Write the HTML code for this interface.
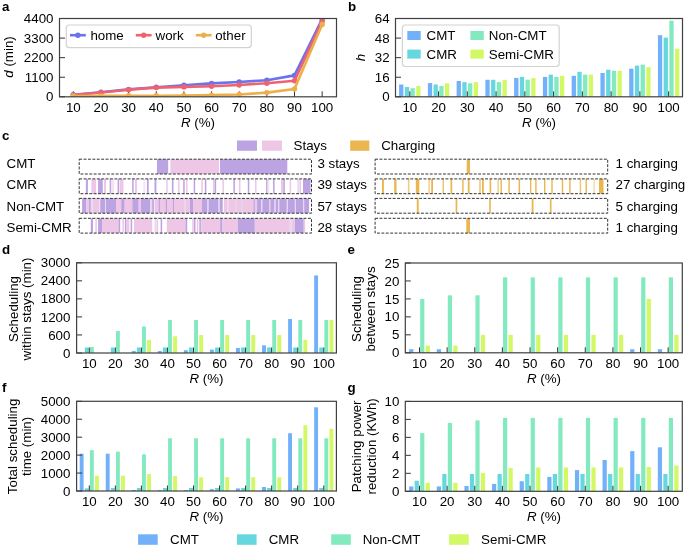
<!DOCTYPE html>
<html><head><meta charset="utf-8"><style>
html,body{margin:0;padding:0;background:#fff;width:685px;height:546px;overflow:hidden;position:relative}
svg{will-change:transform}
</style></head><body>
<svg width="685" height="546" viewBox="0 0 685 546" style="position:absolute;left:0;top:0">
<g font-family='"Liberation Sans", sans-serif' fill="#000000">
<text x="2" y="10.5" font-size="13.33" text-anchor="start" font-weight="bold" font-style="normal" >a</text>
<text x="53.5" y="101.39999999999999" font-size="13.33" text-anchor="end" font-weight="normal" font-style="normal" >0</text>
<text x="53.5" y="81.82499999999999" font-size="13.33" text-anchor="end" font-weight="normal" font-style="normal" >1100</text>
<text x="53.5" y="62.25" font-size="13.33" text-anchor="end" font-weight="normal" font-style="normal" >2200</text>
<text x="53.5" y="42.675000000000004" font-size="13.33" text-anchor="end" font-weight="normal" font-style="normal" >3300</text>
<text x="53.5" y="23.1" font-size="13.33" text-anchor="end" font-weight="normal" font-style="normal" >4400</text>
<text x="73.3" y="111.9" font-size="13.33" text-anchor="middle" font-weight="normal" font-style="normal" >10</text>
<text x="100.94999999999999" y="111.9" font-size="13.33" text-anchor="middle" font-weight="normal" font-style="normal" >20</text>
<text x="128.6" y="111.9" font-size="13.33" text-anchor="middle" font-weight="normal" font-style="normal" >30</text>
<text x="156.25" y="111.9" font-size="13.33" text-anchor="middle" font-weight="normal" font-style="normal" >40</text>
<text x="183.89999999999998" y="111.9" font-size="13.33" text-anchor="middle" font-weight="normal" font-style="normal" >50</text>
<text x="211.55" y="111.9" font-size="13.33" text-anchor="middle" font-weight="normal" font-style="normal" >60</text>
<text x="239.2" y="111.9" font-size="13.33" text-anchor="middle" font-weight="normal" font-style="normal" >70</text>
<text x="266.84999999999997" y="111.9" font-size="13.33" text-anchor="middle" font-weight="normal" font-style="normal" >80</text>
<text x="294.5" y="111.9" font-size="13.33" text-anchor="middle" font-weight="normal" font-style="normal" >90</text>
<text x="322.15" y="111.9" font-size="13.33" text-anchor="middle" font-weight="normal" font-style="normal" >100</text>
<text x="198" y="126.8" font-size="13.33" text-anchor="middle"><tspan font-style="italic">R</tspan> (%)</text>
<text transform="translate(12.6,57) rotate(-90)" font-size="13.33" text-anchor="middle"><tspan font-style="italic">d</tspan> (min)</text>
<line x1="73.30" y1="96.8" x2="73.30" y2="91.3" stroke="#333333" stroke-width="1"/>
<line x1="100.95" y1="96.8" x2="100.95" y2="91.3" stroke="#333333" stroke-width="1"/>
<line x1="128.60" y1="96.8" x2="128.60" y2="91.3" stroke="#333333" stroke-width="1"/>
<line x1="156.25" y1="96.8" x2="156.25" y2="91.3" stroke="#333333" stroke-width="1"/>
<line x1="183.90" y1="96.8" x2="183.90" y2="91.3" stroke="#333333" stroke-width="1"/>
<line x1="211.55" y1="96.8" x2="211.55" y2="91.3" stroke="#333333" stroke-width="1"/>
<line x1="239.20" y1="96.8" x2="239.20" y2="91.3" stroke="#333333" stroke-width="1"/>
<line x1="266.85" y1="96.8" x2="266.85" y2="91.3" stroke="#333333" stroke-width="1"/>
<line x1="294.50" y1="96.8" x2="294.50" y2="91.3" stroke="#333333" stroke-width="1"/>
<line x1="322.15" y1="96.8" x2="322.15" y2="91.3" stroke="#333333" stroke-width="1"/>
<line x1="59.5" y1="96.80" x2="65.0" y2="96.80" stroke="#333333" stroke-width="1"/>
<line x1="59.5" y1="77.22" x2="65.0" y2="77.22" stroke="#333333" stroke-width="1"/>
<line x1="59.5" y1="57.65" x2="65.0" y2="57.65" stroke="#333333" stroke-width="1"/>
<line x1="59.5" y1="38.08" x2="65.0" y2="38.08" stroke="#333333" stroke-width="1"/>
<line x1="59.5" y1="18.50" x2="65.0" y2="18.50" stroke="#333333" stroke-width="1"/>
<defs><clipPath id="clipA"><rect x="59.5" y="18.5" width="277" height="78.3"/></clipPath></defs>
<g clip-path="url(#clipA)">
<polyline points="73.30,94.80 100.95,92.20 128.60,89.40 156.25,87.20 183.90,85.20 211.55,83.40 239.20,82.00 266.85,80.20 294.50,75.40 322.15,19.00" fill="none" stroke="#6A72EC" stroke-width="2.6" stroke-linejoin="round"/>
<circle cx="73.30" cy="94.80" r="2.7" fill="#6A72EC"/>
<circle cx="100.95" cy="92.20" r="2.7" fill="#6A72EC"/>
<circle cx="128.60" cy="89.40" r="2.7" fill="#6A72EC"/>
<circle cx="156.25" cy="87.20" r="2.7" fill="#6A72EC"/>
<circle cx="183.90" cy="85.20" r="2.7" fill="#6A72EC"/>
<circle cx="211.55" cy="83.40" r="2.7" fill="#6A72EC"/>
<circle cx="239.20" cy="82.00" r="2.7" fill="#6A72EC"/>
<circle cx="266.85" cy="80.20" r="2.7" fill="#6A72EC"/>
<circle cx="294.50" cy="75.40" r="2.7" fill="#6A72EC"/>
<circle cx="322.15" cy="19.00" r="2.7" fill="#6A72EC"/>
<polyline points="73.30,95.00 100.95,92.50 128.60,89.70 156.25,87.60 183.90,86.90 211.55,86.20 239.20,85.00 266.85,83.20 294.50,80.70 322.15,21.40" fill="none" stroke="#EF6370" stroke-width="2.6" stroke-linejoin="round"/>
<circle cx="73.30" cy="95.00" r="2.7" fill="#EF6370"/>
<circle cx="100.95" cy="92.50" r="2.7" fill="#EF6370"/>
<circle cx="128.60" cy="89.70" r="2.7" fill="#EF6370"/>
<circle cx="156.25" cy="87.60" r="2.7" fill="#EF6370"/>
<circle cx="183.90" cy="86.90" r="2.7" fill="#EF6370"/>
<circle cx="211.55" cy="86.20" r="2.7" fill="#EF6370"/>
<circle cx="239.20" cy="85.00" r="2.7" fill="#EF6370"/>
<circle cx="266.85" cy="83.20" r="2.7" fill="#EF6370"/>
<circle cx="294.50" cy="80.70" r="2.7" fill="#EF6370"/>
<circle cx="322.15" cy="21.40" r="2.7" fill="#EF6370"/>
<polyline points="73.30,96.00 100.95,95.90 128.60,95.80 156.25,95.70 183.90,95.50 211.55,95.10 239.20,94.50 266.85,92.60 294.50,89.00 322.15,24.50" fill="none" stroke="#ECAF4C" stroke-width="2.6" stroke-linejoin="round"/>
<circle cx="73.30" cy="96.00" r="2.7" fill="#ECAF4C"/>
<circle cx="100.95" cy="95.90" r="2.7" fill="#ECAF4C"/>
<circle cx="128.60" cy="95.80" r="2.7" fill="#ECAF4C"/>
<circle cx="156.25" cy="95.70" r="2.7" fill="#ECAF4C"/>
<circle cx="183.90" cy="95.50" r="2.7" fill="#ECAF4C"/>
<circle cx="211.55" cy="95.10" r="2.7" fill="#ECAF4C"/>
<circle cx="239.20" cy="94.50" r="2.7" fill="#ECAF4C"/>
<circle cx="266.85" cy="92.60" r="2.7" fill="#ECAF4C"/>
<circle cx="294.50" cy="89.00" r="2.7" fill="#ECAF4C"/>
<circle cx="322.15" cy="24.50" r="2.7" fill="#ECAF4C"/>
</g>
<rect x="59.5" y="18.5" width="277.0" height="78.3" fill="none" stroke="#404040" stroke-width="1.2"/>
<rect x="66.3" y="25" width="185" height="22.6" rx="3" fill="#fff" fill-opacity="0.8" stroke="#d2d2d2" stroke-width="1.2"/>
<line x1="70" y1="35.2" x2="85.8" y2="35.2" stroke="#6A72EC" stroke-width="2.6"/>
<circle cx="77.9" cy="35.2" r="2.7" fill="#6A72EC"/>
<text x="90.4" y="39.6" font-size="13.33" text-anchor="start" font-weight="normal" font-style="normal" >home</text>
<line x1="135.8" y1="35.2" x2="151.60000000000002" y2="35.2" stroke="#EF6370" stroke-width="2.6"/>
<circle cx="143.70000000000002" cy="35.2" r="2.7" fill="#EF6370"/>
<text x="155.5" y="39.6" font-size="13.33" text-anchor="start" font-weight="normal" font-style="normal" >work</text>
<line x1="195.8" y1="35.2" x2="211.60000000000002" y2="35.2" stroke="#ECAF4C" stroke-width="2.6"/>
<circle cx="203.70000000000002" cy="35.2" r="2.7" fill="#ECAF4C"/>
<text x="215.2" y="39.6" font-size="13.33" text-anchor="start" font-weight="normal" font-style="normal" >other</text>
<text x="348" y="10.5" font-size="13.33" text-anchor="start" font-weight="bold" font-style="normal" >b</text>
<text x="389.6" y="101.39999999999999" font-size="13.33" text-anchor="end" font-weight="normal" font-style="normal" >0</text>
<text x="389.6" y="81.82499999999999" font-size="13.33" text-anchor="end" font-weight="normal" font-style="normal" >16</text>
<text x="389.6" y="62.25" font-size="13.33" text-anchor="end" font-weight="normal" font-style="normal" >32</text>
<text x="389.6" y="42.675000000000004" font-size="13.33" text-anchor="end" font-weight="normal" font-style="normal" >48</text>
<text x="389.6" y="23.1" font-size="13.33" text-anchor="end" font-weight="normal" font-style="normal" >64</text>
<text x="409.8" y="111.9" font-size="13.33" text-anchor="middle" font-weight="normal" font-style="normal" >10</text>
<text x="438.56" y="111.9" font-size="13.33" text-anchor="middle" font-weight="normal" font-style="normal" >20</text>
<text x="467.32" y="111.9" font-size="13.33" text-anchor="middle" font-weight="normal" font-style="normal" >30</text>
<text x="496.08000000000004" y="111.9" font-size="13.33" text-anchor="middle" font-weight="normal" font-style="normal" >40</text>
<text x="524.84" y="111.9" font-size="13.33" text-anchor="middle" font-weight="normal" font-style="normal" >50</text>
<text x="553.6" y="111.9" font-size="13.33" text-anchor="middle" font-weight="normal" font-style="normal" >60</text>
<text x="582.36" y="111.9" font-size="13.33" text-anchor="middle" font-weight="normal" font-style="normal" >70</text>
<text x="611.12" y="111.9" font-size="13.33" text-anchor="middle" font-weight="normal" font-style="normal" >80</text>
<text x="639.88" y="111.9" font-size="13.33" text-anchor="middle" font-weight="normal" font-style="normal" >90</text>
<text x="668.6400000000001" y="111.9" font-size="13.33" text-anchor="middle" font-weight="normal" font-style="normal" >100</text>
<text x="539" y="126.8" font-size="13.33" text-anchor="middle"><tspan font-style="italic">R</tspan> (%)</text>
<text transform="translate(365,57.6) rotate(-90)" font-size="13.33" text-anchor="middle" font-style="italic">h</text>
<rect x="399.10" y="84.50" width="4.30" height="12.30" fill="#72B1FA" />
<rect x="427.86" y="83.10" width="4.30" height="13.70" fill="#72B1FA" />
<rect x="456.62" y="81.00" width="4.30" height="15.80" fill="#72B1FA" />
<rect x="485.38" y="79.80" width="4.30" height="17.00" fill="#72B1FA" />
<rect x="514.14" y="77.90" width="4.30" height="18.90" fill="#72B1FA" />
<rect x="542.90" y="76.90" width="4.30" height="19.90" fill="#72B1FA" />
<rect x="571.66" y="75.80" width="4.30" height="21.00" fill="#72B1FA" />
<rect x="600.42" y="73.00" width="4.30" height="23.80" fill="#72B1FA" />
<rect x="629.18" y="68.70" width="4.30" height="28.10" fill="#72B1FA" />
<rect x="657.94" y="35.20" width="4.30" height="61.60" fill="#72B1FA" />
<rect x="404.80" y="87.00" width="4.30" height="9.80" fill="#66D7DF" />
<rect x="433.56" y="84.50" width="4.30" height="12.30" fill="#66D7DF" />
<rect x="462.32" y="82.10" width="4.30" height="14.70" fill="#66D7DF" />
<rect x="491.08" y="79.80" width="4.30" height="17.00" fill="#66D7DF" />
<rect x="519.84" y="76.90" width="4.30" height="19.90" fill="#66D7DF" />
<rect x="548.60" y="74.60" width="4.30" height="22.20" fill="#66D7DF" />
<rect x="577.36" y="71.80" width="4.30" height="25.00" fill="#66D7DF" />
<rect x="606.12" y="69.70" width="4.30" height="27.10" fill="#66D7DF" />
<rect x="634.88" y="65.60" width="4.30" height="31.20" fill="#66D7DF" />
<rect x="663.64" y="37.60" width="4.30" height="59.20" fill="#66D7DF" />
<rect x="410.50" y="88.20" width="4.30" height="8.60" fill="#83EABF" />
<rect x="439.26" y="86.00" width="4.30" height="10.80" fill="#83EABF" />
<rect x="468.02" y="83.30" width="4.30" height="13.50" fill="#83EABF" />
<rect x="496.78" y="82.10" width="4.30" height="14.70" fill="#83EABF" />
<rect x="525.54" y="79.70" width="4.30" height="17.10" fill="#83EABF" />
<rect x="554.30" y="76.90" width="4.30" height="19.90" fill="#83EABF" />
<rect x="583.06" y="74.60" width="4.30" height="22.20" fill="#83EABF" />
<rect x="611.82" y="70.70" width="4.30" height="26.10" fill="#83EABF" />
<rect x="640.58" y="64.60" width="4.30" height="32.20" fill="#83EABF" />
<rect x="669.34" y="20.70" width="4.30" height="76.10" fill="#83EABF" />
<rect x="416.20" y="86.00" width="4.30" height="10.80" fill="#D3F865" />
<rect x="444.96" y="83.30" width="4.30" height="13.50" fill="#D3F865" />
<rect x="473.72" y="82.10" width="4.30" height="14.70" fill="#D3F865" />
<rect x="502.48" y="79.80" width="4.30" height="17.00" fill="#D3F865" />
<rect x="531.24" y="78.10" width="4.30" height="18.70" fill="#D3F865" />
<rect x="560.00" y="75.80" width="4.30" height="21.00" fill="#D3F865" />
<rect x="588.76" y="74.60" width="4.30" height="22.20" fill="#D3F865" />
<rect x="617.52" y="70.70" width="4.30" height="26.10" fill="#D3F865" />
<rect x="646.28" y="67.20" width="4.30" height="29.60" fill="#D3F865" />
<rect x="675.04" y="48.80" width="4.30" height="48.00" fill="#D3F865" />
<line x1="409.80" y1="96.8" x2="409.80" y2="91.3" stroke="#333333" stroke-width="1"/>
<line x1="438.56" y1="96.8" x2="438.56" y2="91.3" stroke="#333333" stroke-width="1"/>
<line x1="467.32" y1="96.8" x2="467.32" y2="91.3" stroke="#333333" stroke-width="1"/>
<line x1="496.08" y1="96.8" x2="496.08" y2="91.3" stroke="#333333" stroke-width="1"/>
<line x1="524.84" y1="96.8" x2="524.84" y2="91.3" stroke="#333333" stroke-width="1"/>
<line x1="553.60" y1="96.8" x2="553.60" y2="91.3" stroke="#333333" stroke-width="1"/>
<line x1="582.36" y1="96.8" x2="582.36" y2="91.3" stroke="#333333" stroke-width="1"/>
<line x1="611.12" y1="96.8" x2="611.12" y2="91.3" stroke="#333333" stroke-width="1"/>
<line x1="639.88" y1="96.8" x2="639.88" y2="91.3" stroke="#333333" stroke-width="1"/>
<line x1="668.64" y1="96.8" x2="668.64" y2="91.3" stroke="#333333" stroke-width="1"/>
<line x1="395.5" y1="96.80" x2="401.0" y2="96.80" stroke="#333333" stroke-width="1"/>
<line x1="395.5" y1="77.22" x2="401.0" y2="77.22" stroke="#333333" stroke-width="1"/>
<line x1="395.5" y1="57.65" x2="401.0" y2="57.65" stroke="#333333" stroke-width="1"/>
<line x1="395.5" y1="38.08" x2="401.0" y2="38.08" stroke="#333333" stroke-width="1"/>
<line x1="395.5" y1="18.50" x2="401.0" y2="18.50" stroke="#333333" stroke-width="1"/>
<rect x="395.5" y="18.5" width="287.0" height="78.3" fill="none" stroke="#404040" stroke-width="1.2"/>
<rect x="402.4" y="25" width="156.8" height="41.5" rx="3" fill="#fff" fill-opacity="0.8" stroke="#d2d2d2" stroke-width="1.2"/>
<rect x="407.30" y="31.00" width="13.40" height="9.00" fill="#72B1FA" />
<rect x="407.30" y="49.60" width="13.40" height="9.00" fill="#66D7DF" />
<rect x="470.40" y="31.00" width="13.40" height="9.00" fill="#83EABF" />
<rect x="470.40" y="49.60" width="13.40" height="9.00" fill="#D3F865" />
<text x="426.5" y="40.2" font-size="13.33" text-anchor="start" font-weight="normal" font-style="normal" >CMT</text>
<text x="426.5" y="58.8" font-size="13.33" text-anchor="start" font-weight="normal" font-style="normal" >CMR</text>
<text x="488.8" y="40.2" font-size="13.33" text-anchor="start" font-weight="normal" font-style="normal" >Non-CMT</text>
<text x="488.8" y="58.8" font-size="13.33" text-anchor="start" font-weight="normal" font-style="normal" >Semi-CMR</text>
<text x="2" y="140" font-size="13.33" text-anchor="start" font-weight="bold" font-style="normal" >c</text>
<rect x="237.00" y="140.50" width="20.00" height="10.30" fill="#BCA3E1" />
<rect x="262.00" y="140.50" width="20.00" height="10.30" fill="#EEC7E6" />
<text x="293.6" y="150.2" font-size="13.33" text-anchor="start" font-weight="normal" font-style="normal" >Stays</text>
<rect x="350.20" y="140.50" width="19.10" height="10.30" fill="#EAB650" />
<text x="381.2" y="150.2" font-size="13.33" text-anchor="start" font-weight="normal" font-style="normal" >Charging</text>
<text x="6.5" y="167.7" font-size="13.33" text-anchor="start" font-weight="normal" font-style="normal" >CMT</text>
<rect x="157.00" y="159.20" width="11.20" height="14.80" fill="#BCA3E1" />
<rect x="170.30" y="159.20" width="48.70" height="14.80" fill="#EEC7E6" />
<rect x="220.00" y="159.20" width="67.30" height="14.80" fill="#BCA3E1" />
<rect x="466.70" y="159.20" width="3.30" height="14.80" fill="#EAB650" fill-opacity="1"/>
<rect x="79.2" y="159.2" width="232.3" height="14.8" fill="none" stroke="#333333" stroke-width="1" stroke-dasharray="2.9 1.5"/>
<rect x="375.1" y="159.2" width="232.6" height="14.8" fill="none" stroke="#333333" stroke-width="1" stroke-dasharray="2.9 1.5"/>
<text x="317.4" y="167.7" font-size="13.33" text-anchor="start" font-weight="normal" font-style="normal" >3 stays</text>
<text x="615.6" y="167.7" font-size="13.33" text-anchor="start" font-weight="normal" font-style="normal" >1 charging</text>
<text x="6.5" y="189.1" font-size="13.33" text-anchor="start" font-weight="normal" font-style="normal" >CMR</text>
<rect x="85.90" y="178.90" width="2.00" height="14.80" fill="#BCA3E1" />
<rect x="91.40" y="178.90" width="4.70" height="14.80" fill="#EEC7E6" />
<rect x="98.10" y="178.90" width="4.70" height="14.80" fill="#BCA3E1" />
<rect x="103.90" y="178.90" width="2.10" height="14.80" fill="#EEC7E6" />
<rect x="109.60" y="178.90" width="1.50" height="14.80" fill="#BCA3E1" />
<rect x="110.90" y="178.90" width="3.30" height="14.80" fill="#F5E3F2" />
<rect x="117.55" y="178.90" width="1.50" height="14.80" fill="#BCA3E1" />
<rect x="119.50" y="178.90" width="4.00" height="14.80" fill="#EEC7E6" />
<rect x="132.15" y="178.90" width="1.50" height="14.80" fill="#BCA3E1" />
<rect x="135.00" y="178.90" width="2.00" height="14.80" fill="#EEC7E6" />
<rect x="143.40" y="178.90" width="1.80" height="14.80" fill="#F5E3F2" />
<rect x="146.90" y="178.90" width="1.80" height="14.80" fill="#BCA3E1" />
<rect x="154.50" y="178.90" width="1.90" height="14.80" fill="#BCA3E1" />
<rect x="166.25" y="178.90" width="1.50" height="14.80" fill="#EEC7E6" />
<rect x="171.90" y="178.90" width="1.60" height="14.80" fill="#BCA3E1" />
<rect x="178.10" y="178.90" width="1.50" height="14.80" fill="#EEC7E6" />
<rect x="183.20" y="178.90" width="1.50" height="14.80" fill="#BCA3E1" />
<rect x="186.00" y="178.90" width="1.50" height="14.80" fill="#EEC7E6" />
<rect x="193.70" y="178.90" width="1.50" height="14.80" fill="#BCA3E1" />
<rect x="201.30" y="178.90" width="1.50" height="14.80" fill="#EEC7E6" />
<rect x="204.85" y="178.90" width="1.50" height="14.80" fill="#BCA3E1" />
<rect x="213.00" y="178.90" width="1.50" height="14.80" fill="#EEC7E6" />
<rect x="214.65" y="178.90" width="1.50" height="14.80" fill="#BCA3E1" />
<rect x="222.45" y="178.90" width="1.50" height="14.80" fill="#EEC7E6" />
<rect x="233.40" y="178.90" width="1.50" height="14.80" fill="#BCA3E1" />
<rect x="238.95" y="178.90" width="1.50" height="14.80" fill="#EEC7E6" />
<rect x="247.80" y="178.90" width="1.50" height="14.80" fill="#BCA3E1" />
<rect x="255.05" y="178.90" width="1.50" height="14.80" fill="#EEC7E6" />
<rect x="266.15" y="178.90" width="1.50" height="14.80" fill="#BCA3E1" />
<rect x="267.60" y="178.90" width="1.80" height="14.80" fill="#F5E3F2" />
<rect x="273.10" y="178.90" width="1.50" height="14.80" fill="#BCA3E1" />
<rect x="281.00" y="178.90" width="2.40" height="14.80" fill="#EEC7E6" />
<rect x="283.35" y="178.90" width="1.50" height="14.80" fill="#BCA3E1" />
<rect x="289.65" y="178.90" width="1.50" height="14.80" fill="#EEC7E6" />
<rect x="297.40" y="178.90" width="1.80" height="14.80" fill="#E6D8F2" />
<rect x="299.45" y="178.90" width="1.50" height="14.80" fill="#EEC7E6" />
<rect x="303.00" y="178.90" width="7.50" height="14.80" fill="#BCA3E1" />
<rect x="382.00" y="178.90" width="1.90" height="14.80" fill="#EAB650" fill-opacity="1"/>
<rect x="394.20" y="178.90" width="2.30" height="14.80" fill="#EAB650" fill-opacity="1"/>
<rect x="407.90" y="178.90" width="1.60" height="14.80" fill="#EAB650" fill-opacity="0.7"/>
<rect x="415.80" y="178.90" width="3.50" height="14.80" fill="#EAB650" fill-opacity="1"/>
<rect x="428.40" y="178.90" width="1.40" height="14.80" fill="#EAB650" fill-opacity="0.7"/>
<rect x="431.20" y="178.90" width="1.80" height="14.80" fill="#EAB650" fill-opacity="1"/>
<rect x="442.60" y="178.90" width="1.20" height="14.80" fill="#EAB650" fill-opacity="1"/>
<rect x="450.50" y="178.90" width="1.70" height="14.80" fill="#EAB650" fill-opacity="1"/>
<rect x="462.20" y="178.90" width="1.40" height="14.80" fill="#EAB650" fill-opacity="1"/>
<rect x="467.80" y="178.90" width="1.80" height="14.80" fill="#EAB650" fill-opacity="1"/>
<rect x="479.40" y="178.90" width="1.20" height="14.80" fill="#EAB650" fill-opacity="1"/>
<rect x="482.00" y="178.90" width="1.80" height="14.80" fill="#EAB650" fill-opacity="1"/>
<rect x="489.60" y="178.90" width="1.60" height="14.80" fill="#EAB650" fill-opacity="1"/>
<rect x="497.40" y="178.90" width="1.40" height="14.80" fill="#EAB650" fill-opacity="0.7"/>
<rect x="500.50" y="178.90" width="1.40" height="14.80" fill="#EAB650" fill-opacity="1"/>
<rect x="508.40" y="178.90" width="1.40" height="14.80" fill="#EAB650" fill-opacity="1"/>
<rect x="518.60" y="178.90" width="1.50" height="14.80" fill="#EAB650" fill-opacity="1"/>
<rect x="530.00" y="178.90" width="1.30" height="14.80" fill="#EAB650" fill-opacity="1"/>
<rect x="535.20" y="178.90" width="1.40" height="14.80" fill="#EAB650" fill-opacity="1"/>
<rect x="544.00" y="178.90" width="1.40" height="14.80" fill="#EAB650" fill-opacity="1"/>
<rect x="551.30" y="178.90" width="1.40" height="14.80" fill="#EAB650" fill-opacity="1"/>
<rect x="561.80" y="178.90" width="1.40" height="14.80" fill="#EAB650" fill-opacity="1"/>
<rect x="569.20" y="178.90" width="1.40" height="14.80" fill="#EAB650" fill-opacity="1"/>
<rect x="579.70" y="178.90" width="1.40" height="14.80" fill="#EAB650" fill-opacity="0.8"/>
<rect x="585.50" y="178.90" width="1.40" height="14.80" fill="#EAB650" fill-opacity="1"/>
<rect x="593.40" y="178.90" width="1.40" height="14.80" fill="#EAB650" fill-opacity="0.5"/>
<rect x="599.00" y="178.90" width="4.50" height="14.80" fill="#EAB650" fill-opacity="1"/>
<rect x="79.2" y="178.9" width="232.3" height="14.8" fill="none" stroke="#333333" stroke-width="1" stroke-dasharray="2.9 1.5"/>
<rect x="375.1" y="178.9" width="232.6" height="14.8" fill="none" stroke="#333333" stroke-width="1" stroke-dasharray="2.9 1.5"/>
<text x="317.4" y="189.1" font-size="13.33" text-anchor="start" font-weight="normal" font-style="normal" >39 stays</text>
<text x="615.6" y="189.1" font-size="13.33" text-anchor="start" font-weight="normal" font-style="normal" >27 charging</text>
<text x="6.5" y="210.5" font-size="13.33" text-anchor="start" font-weight="normal" font-style="normal" >Non-CMT</text>
<rect x="82.10" y="198.40" width="4.10" height="14.80" fill="#BCA3E1" />
<rect x="86.20" y="198.40" width="2.90" height="14.80" fill="#EEC7E6" />
<rect x="89.10" y="198.40" width="1.70" height="14.80" fill="#BCA3E1" />
<rect x="90.80" y="198.40" width="1.80" height="14.80" fill="#E6D8F2" />
<rect x="92.60" y="198.40" width="7.00" height="14.80" fill="#EEC7E6" />
<rect x="100.20" y="198.40" width="5.20" height="14.80" fill="#BCA3E1" />
<rect x="104.95" y="198.40" width="1.50" height="14.80" fill="#E6D8F2" />
<rect x="106.00" y="198.40" width="10.00" height="14.80" fill="#BCA3E1" />
<rect x="116.00" y="198.40" width="5.20" height="14.80" fill="#EEC7E6" />
<rect x="121.20" y="198.40" width="3.50" height="14.80" fill="#BCA3E1" />
<rect x="124.70" y="198.40" width="7.60" height="14.80" fill="#EEC7E6" />
<rect x="132.30" y="198.40" width="6.40" height="14.80" fill="#BCA3E1" />
<rect x="138.70" y="198.40" width="2.30" height="14.80" fill="#EEC7E6" />
<rect x="141.00" y="198.40" width="9.40" height="14.80" fill="#BCA3E1" />
<rect x="150.40" y="198.40" width="1.80" height="14.80" fill="#E6D8F2" />
<rect x="152.20" y="198.40" width="1.70" height="14.80" fill="#BCA3E1" />
<rect x="154.50" y="198.40" width="4.60" height="14.80" fill="#EEC7E6" />
<rect x="158.75" y="198.40" width="1.50" height="14.80" fill="#BCA3E1" />
<rect x="159.90" y="198.40" width="6.20" height="14.80" fill="#EEC7E6" />
<rect x="165.80" y="198.40" width="1.50" height="14.80" fill="#BCA3E1" />
<rect x="167.00" y="198.40" width="6.10" height="14.80" fill="#EEC7E6" />
<rect x="172.95" y="198.40" width="1.50" height="14.80" fill="#BCA3E1" />
<rect x="174.30" y="198.40" width="10.50" height="14.80" fill="#EEC7E6" />
<rect x="184.65" y="198.40" width="1.50" height="14.80" fill="#E6D8F2" />
<rect x="186.00" y="198.40" width="4.00" height="14.80" fill="#EEC7E6" />
<rect x="190.00" y="198.40" width="3.00" height="14.80" fill="#BCA3E1" />
<rect x="193.00" y="198.40" width="8.70" height="14.80" fill="#EEC7E6" />
<rect x="201.70" y="198.40" width="5.90" height="14.80" fill="#BCA3E1" />
<rect x="207.40" y="198.40" width="1.50" height="14.80" fill="#E6D8F2" />
<rect x="208.70" y="198.40" width="9.90" height="14.80" fill="#BCA3E1" />
<rect x="218.45" y="198.40" width="1.50" height="14.80" fill="#E6D8F2" />
<rect x="219.80" y="198.40" width="2.90" height="14.80" fill="#BCA3E1" />
<rect x="223.90" y="198.40" width="3.50" height="14.80" fill="#EEC7E6" />
<rect x="227.25" y="198.40" width="1.50" height="14.80" fill="#E6D8F2" />
<rect x="228.60" y="198.40" width="25.00" height="14.80" fill="#EEC7E6" />
<rect x="235.25" y="198.40" width="1.50" height="14.80" fill="#E6D8F2" />
<rect x="241.25" y="198.40" width="1.50" height="14.80" fill="#E6D8F2" />
<rect x="253.45" y="198.40" width="1.50" height="14.80" fill="#BCA3E1" />
<rect x="254.80" y="198.40" width="2.30" height="14.80" fill="#EEC7E6" />
<rect x="257.10" y="198.40" width="4.10" height="14.80" fill="#BCA3E1" />
<rect x="261.05" y="198.40" width="1.50" height="14.80" fill="#E6D8F2" />
<rect x="262.40" y="198.40" width="7.00" height="14.80" fill="#BCA3E1" />
<rect x="269.20" y="198.40" width="1.50" height="14.80" fill="#EEC7E6" />
<rect x="270.50" y="198.40" width="4.10" height="14.80" fill="#BCA3E1" />
<rect x="274.45" y="198.40" width="1.50" height="14.80" fill="#E6D8F2" />
<rect x="275.80" y="198.40" width="2.30" height="14.80" fill="#BCA3E1" />
<rect x="277.95" y="198.40" width="1.50" height="14.80" fill="#E6D8F2" />
<rect x="279.30" y="198.40" width="7.60" height="14.80" fill="#BCA3E1" />
<rect x="286.70" y="198.40" width="1.50" height="14.80" fill="#E6D8F2" />
<rect x="288.00" y="198.40" width="7.00" height="14.80" fill="#BCA3E1" />
<rect x="294.75" y="198.40" width="1.50" height="14.80" fill="#E6D8F2" />
<rect x="296.00" y="198.40" width="7.20" height="14.80" fill="#BCA3E1" />
<rect x="302.95" y="198.40" width="1.50" height="14.80" fill="#E6D8F2" />
<rect x="304.20" y="198.40" width="4.90" height="14.80" fill="#BCA3E1" />
<rect x="416.80" y="198.40" width="1.90" height="14.80" fill="#EAB650" fill-opacity="1"/>
<rect x="455.60" y="198.40" width="1.70" height="14.80" fill="#EAB650" fill-opacity="1"/>
<rect x="489.20" y="198.40" width="1.60" height="14.80" fill="#EAB650" fill-opacity="1"/>
<rect x="531.70" y="198.40" width="1.80" height="14.80" fill="#EAB650" fill-opacity="1"/>
<rect x="549.90" y="198.40" width="1.60" height="14.80" fill="#EAB650" fill-opacity="1"/>
<rect x="79.2" y="198.4" width="232.3" height="14.8" fill="none" stroke="#333333" stroke-width="1" stroke-dasharray="2.9 1.5"/>
<rect x="375.1" y="198.4" width="232.6" height="14.8" fill="none" stroke="#333333" stroke-width="1" stroke-dasharray="2.9 1.5"/>
<text x="317.4" y="210.5" font-size="13.33" text-anchor="start" font-weight="normal" font-style="normal" >57 stays</text>
<text x="615.6" y="210.5" font-size="13.33" text-anchor="start" font-weight="normal" font-style="normal" >5 charging</text>
<text x="6.5" y="232.0" font-size="13.33" text-anchor="start" font-weight="normal" font-style="normal" >Semi-CMR</text>
<rect x="90.80" y="218.30" width="2.20" height="14.80" fill="#BCA3E1" />
<rect x="95.35" y="218.30" width="1.50" height="14.80" fill="#EEC7E6" />
<rect x="98.10" y="218.30" width="3.90" height="14.80" fill="#BCA3E1" />
<rect x="102.00" y="218.30" width="16.90" height="14.80" fill="#EEC7E6" />
<rect x="118.70" y="218.30" width="1.50" height="14.80" fill="#BCA3E1" />
<rect x="122.40" y="218.30" width="1.70" height="14.80" fill="#EEC7E6" />
<rect x="124.95" y="218.30" width="1.50" height="14.80" fill="#BCA3E1" />
<rect x="126.50" y="218.30" width="2.90" height="14.80" fill="#EEC7E6" />
<rect x="130.65" y="218.30" width="1.50" height="14.80" fill="#BCA3E1" />
<rect x="134.00" y="218.30" width="18.20" height="14.80" fill="#EEC7E6" />
<rect x="154.50" y="218.30" width="1.90" height="14.80" fill="#E6D8F2" />
<rect x="156.60" y="218.30" width="1.50" height="14.80" fill="#EEC7E6" />
<rect x="160.65" y="218.30" width="1.50" height="14.80" fill="#BCA3E1" />
<rect x="166.70" y="218.30" width="19.30" height="14.80" fill="#EEC7E6" />
<rect x="185.75" y="218.30" width="1.50" height="14.80" fill="#BCA3E1" />
<rect x="192.20" y="218.30" width="1.50" height="14.80" fill="#EEC7E6" />
<rect x="193.95" y="218.30" width="1.50" height="14.80" fill="#BCA3E1" />
<rect x="196.85" y="218.30" width="1.50" height="14.80" fill="#EEC7E6" />
<rect x="199.35" y="218.30" width="1.50" height="14.80" fill="#BCA3E1" />
<rect x="201.10" y="218.30" width="19.10" height="14.80" fill="#EEC7E6" />
<rect x="220.20" y="218.30" width="2.30" height="14.80" fill="#BCA3E1" />
<rect x="222.50" y="218.30" width="15.30" height="14.80" fill="#EEC7E6" />
<rect x="237.80" y="218.30" width="17.00" height="14.80" fill="#BCA3E1" />
<rect x="254.80" y="218.30" width="35.00" height="14.80" fill="#EEC7E6" />
<rect x="289.80" y="218.30" width="2.30" height="14.80" fill="#E6D8F2" />
<rect x="292.10" y="218.30" width="2.90" height="14.80" fill="#EEC7E6" />
<rect x="295.00" y="218.30" width="8.80" height="14.80" fill="#BCA3E1" />
<rect x="303.65" y="218.30" width="1.50" height="14.80" fill="#EEC7E6" />
<rect x="466.30" y="218.30" width="3.70" height="14.80" fill="#EAB650" fill-opacity="1"/>
<rect x="79.2" y="218.3" width="232.3" height="14.8" fill="none" stroke="#333333" stroke-width="1" stroke-dasharray="2.9 1.5"/>
<rect x="375.1" y="218.3" width="232.6" height="14.8" fill="none" stroke="#333333" stroke-width="1" stroke-dasharray="2.9 1.5"/>
<text x="317.4" y="232.0" font-size="13.33" text-anchor="start" font-weight="normal" font-style="normal" >28 stays</text>
<text x="615.6" y="232.0" font-size="13.33" text-anchor="start" font-weight="normal" font-style="normal" >1 charging</text>
<text x="2" y="254.3" font-size="13.33" text-anchor="start" font-weight="bold" font-style="normal" >d</text>
<text x="70.4" y="357.6" font-size="13.33" text-anchor="end" font-weight="normal" font-style="normal" >0</text>
<text x="70.4" y="339.56" font-size="13.33" text-anchor="end" font-weight="normal" font-style="normal" >600</text>
<text x="70.4" y="321.52000000000004" font-size="13.33" text-anchor="end" font-weight="normal" font-style="normal" >1200</text>
<text x="70.4" y="303.48" font-size="13.33" text-anchor="end" font-weight="normal" font-style="normal" >1800</text>
<text x="70.4" y="285.44000000000005" font-size="13.33" text-anchor="end" font-weight="normal" font-style="normal" >2400</text>
<text x="70.4" y="267.40000000000003" font-size="13.33" text-anchor="end" font-weight="normal" font-style="normal" >3000</text>
<text x="89.3" y="368.0" font-size="13.33" text-anchor="middle" font-weight="normal" font-style="normal" >10</text>
<text x="115.35" y="368.0" font-size="13.33" text-anchor="middle" font-weight="normal" font-style="normal" >20</text>
<text x="141.4" y="368.0" font-size="13.33" text-anchor="middle" font-weight="normal" font-style="normal" >30</text>
<text x="167.45" y="368.0" font-size="13.33" text-anchor="middle" font-weight="normal" font-style="normal" >40</text>
<text x="193.5" y="368.0" font-size="13.33" text-anchor="middle" font-weight="normal" font-style="normal" >50</text>
<text x="219.55" y="368.0" font-size="13.33" text-anchor="middle" font-weight="normal" font-style="normal" >60</text>
<text x="245.60000000000002" y="368.0" font-size="13.33" text-anchor="middle" font-weight="normal" font-style="normal" >70</text>
<text x="271.65" y="368.0" font-size="13.33" text-anchor="middle" font-weight="normal" font-style="normal" >80</text>
<text x="297.7" y="368.0" font-size="13.33" text-anchor="middle" font-weight="normal" font-style="normal" >90</text>
<text x="323.75" y="368.0" font-size="13.33" text-anchor="middle" font-weight="normal" font-style="normal" >100</text>
<text x="206.5" y="383" font-size="13.33" text-anchor="middle"><tspan font-style="italic">R</tspan> (%)</text>
<text transform="translate(17.5,309) rotate(-90)" font-size="13.33" text-anchor="middle">Scheduling</text>
<text transform="translate(31.2,309) rotate(-90)" font-size="13.33" text-anchor="middle">within stays (min)</text>
<rect x="131.80" y="351.00" width="3.90" height="2.00" fill="#72B1FA" />
<rect x="157.85" y="351.00" width="3.90" height="2.00" fill="#72B1FA" />
<rect x="183.90" y="350.20" width="3.90" height="2.80" fill="#72B1FA" />
<rect x="209.95" y="349.60" width="3.90" height="3.40" fill="#72B1FA" />
<rect x="236.00" y="348.00" width="3.90" height="5.00" fill="#72B1FA" />
<rect x="262.05" y="345.30" width="3.90" height="7.70" fill="#72B1FA" />
<rect x="288.10" y="319.00" width="3.90" height="34.00" fill="#72B1FA" />
<rect x="314.15" y="275.40" width="3.90" height="77.60" fill="#72B1FA" />
<rect x="84.80" y="347.50" width="3.90" height="5.50" fill="#66D7DF" />
<rect x="110.85" y="347.50" width="3.90" height="5.50" fill="#66D7DF" />
<rect x="136.90" y="347.50" width="3.90" height="5.50" fill="#66D7DF" />
<rect x="162.95" y="347.50" width="3.90" height="5.50" fill="#66D7DF" />
<rect x="189.00" y="347.50" width="3.90" height="5.50" fill="#66D7DF" />
<rect x="215.05" y="347.50" width="3.90" height="5.50" fill="#66D7DF" />
<rect x="241.10" y="347.50" width="3.90" height="5.50" fill="#66D7DF" />
<rect x="267.15" y="347.50" width="3.90" height="5.50" fill="#66D7DF" />
<rect x="293.20" y="347.50" width="3.90" height="5.50" fill="#66D7DF" />
<rect x="319.25" y="347.50" width="3.90" height="5.50" fill="#66D7DF" />
<rect x="89.90" y="347.00" width="3.90" height="6.00" fill="#83EABF" />
<rect x="115.95" y="331.00" width="3.90" height="22.00" fill="#83EABF" />
<rect x="142.00" y="326.50" width="3.90" height="26.50" fill="#83EABF" />
<rect x="168.05" y="320.00" width="3.90" height="33.00" fill="#83EABF" />
<rect x="194.10" y="320.00" width="3.90" height="33.00" fill="#83EABF" />
<rect x="220.15" y="320.00" width="3.90" height="33.00" fill="#83EABF" />
<rect x="246.20" y="320.00" width="3.90" height="33.00" fill="#83EABF" />
<rect x="272.25" y="320.00" width="3.90" height="33.00" fill="#83EABF" />
<rect x="298.30" y="320.00" width="3.90" height="33.00" fill="#83EABF" />
<rect x="324.35" y="320.00" width="3.90" height="33.00" fill="#83EABF" />
<rect x="147.10" y="340.00" width="3.90" height="13.00" fill="#D3F865" />
<rect x="173.15" y="336.30" width="3.90" height="16.70" fill="#D3F865" />
<rect x="199.20" y="335.00" width="3.90" height="18.00" fill="#D3F865" />
<rect x="225.25" y="335.00" width="3.90" height="18.00" fill="#D3F865" />
<rect x="251.30" y="335.00" width="3.90" height="18.00" fill="#D3F865" />
<rect x="277.35" y="335.00" width="3.90" height="18.00" fill="#D3F865" />
<rect x="303.40" y="339.80" width="3.90" height="13.20" fill="#D3F865" />
<rect x="329.45" y="320.00" width="3.90" height="33.00" fill="#D3F865" />
<line x1="89.30" y1="353.0" x2="89.30" y2="347.5" stroke="#333333" stroke-width="1"/>
<line x1="115.35" y1="353.0" x2="115.35" y2="347.5" stroke="#333333" stroke-width="1"/>
<line x1="141.40" y1="353.0" x2="141.40" y2="347.5" stroke="#333333" stroke-width="1"/>
<line x1="167.45" y1="353.0" x2="167.45" y2="347.5" stroke="#333333" stroke-width="1"/>
<line x1="193.50" y1="353.0" x2="193.50" y2="347.5" stroke="#333333" stroke-width="1"/>
<line x1="219.55" y1="353.0" x2="219.55" y2="347.5" stroke="#333333" stroke-width="1"/>
<line x1="245.60" y1="353.0" x2="245.60" y2="347.5" stroke="#333333" stroke-width="1"/>
<line x1="271.65" y1="353.0" x2="271.65" y2="347.5" stroke="#333333" stroke-width="1"/>
<line x1="297.70" y1="353.0" x2="297.70" y2="347.5" stroke="#333333" stroke-width="1"/>
<line x1="323.75" y1="353.0" x2="323.75" y2="347.5" stroke="#333333" stroke-width="1"/>
<line x1="76.6" y1="353.00" x2="82.1" y2="353.00" stroke="#333333" stroke-width="1"/>
<line x1="76.6" y1="334.96" x2="82.1" y2="334.96" stroke="#333333" stroke-width="1"/>
<line x1="76.6" y1="316.92" x2="82.1" y2="316.92" stroke="#333333" stroke-width="1"/>
<line x1="76.6" y1="298.88" x2="82.1" y2="298.88" stroke="#333333" stroke-width="1"/>
<line x1="76.6" y1="280.84" x2="82.1" y2="280.84" stroke="#333333" stroke-width="1"/>
<line x1="76.6" y1="262.80" x2="82.1" y2="262.80" stroke="#333333" stroke-width="1"/>
<rect x="76.6" y="262.8" width="259.79999999999995" height="90.19999999999999" fill="none" stroke="#404040" stroke-width="1.2"/>
<text x="347.6" y="254.3" font-size="13.33" text-anchor="start" font-weight="bold" font-style="normal" >e</text>
<text x="399.4" y="357.40000000000003" font-size="13.33" text-anchor="end" font-weight="normal" font-style="normal" >0</text>
<text x="399.4" y="339.44000000000005" font-size="13.33" text-anchor="end" font-weight="normal" font-style="normal" >5</text>
<text x="399.4" y="321.48" font-size="13.33" text-anchor="end" font-weight="normal" font-style="normal" >10</text>
<text x="399.4" y="303.52000000000004" font-size="13.33" text-anchor="end" font-weight="normal" font-style="normal" >15</text>
<text x="399.4" y="285.56" font-size="13.33" text-anchor="end" font-weight="normal" font-style="normal" >20</text>
<text x="399.4" y="267.6" font-size="13.33" text-anchor="end" font-weight="normal" font-style="normal" >25</text>
<text x="419.5" y="368.0" font-size="13.33" text-anchor="middle" font-weight="normal" font-style="normal" >10</text>
<text x="447.13" y="368.0" font-size="13.33" text-anchor="middle" font-weight="normal" font-style="normal" >20</text>
<text x="474.76" y="368.0" font-size="13.33" text-anchor="middle" font-weight="normal" font-style="normal" >30</text>
<text x="502.39" y="368.0" font-size="13.33" text-anchor="middle" font-weight="normal" font-style="normal" >40</text>
<text x="530.02" y="368.0" font-size="13.33" text-anchor="middle" font-weight="normal" font-style="normal" >50</text>
<text x="557.65" y="368.0" font-size="13.33" text-anchor="middle" font-weight="normal" font-style="normal" >60</text>
<text x="585.28" y="368.0" font-size="13.33" text-anchor="middle" font-weight="normal" font-style="normal" >70</text>
<text x="612.91" y="368.0" font-size="13.33" text-anchor="middle" font-weight="normal" font-style="normal" >80</text>
<text x="640.54" y="368.0" font-size="13.33" text-anchor="middle" font-weight="normal" font-style="normal" >90</text>
<text x="668.17" y="368.0" font-size="13.33" text-anchor="middle" font-weight="normal" font-style="normal" >100</text>
<text x="544" y="383" font-size="13.33" text-anchor="middle"><tspan font-style="italic">R</tspan> (%)</text>
<text transform="translate(361.1,309) rotate(-90)" font-size="13.33" text-anchor="middle">Scheduling</text>
<text transform="translate(375.3,309) rotate(-90)" font-size="13.33" text-anchor="middle">between stays</text>
<rect x="409.15" y="349.21" width="4.20" height="3.59" fill="#72B1FA" />
<rect x="436.78" y="349.21" width="4.20" height="3.59" fill="#72B1FA" />
<rect x="630.19" y="349.21" width="4.20" height="3.59" fill="#72B1FA" />
<rect x="657.82" y="349.21" width="4.20" height="3.59" fill="#72B1FA" />
<rect x="420.15" y="298.92" width="4.20" height="53.88" fill="#83EABF" />
<rect x="447.78" y="295.33" width="4.20" height="57.47" fill="#83EABF" />
<rect x="475.41" y="295.33" width="4.20" height="57.47" fill="#83EABF" />
<rect x="503.04" y="277.37" width="4.20" height="75.43" fill="#83EABF" />
<rect x="530.67" y="277.37" width="4.20" height="75.43" fill="#83EABF" />
<rect x="558.30" y="277.37" width="4.20" height="75.43" fill="#83EABF" />
<rect x="585.93" y="277.37" width="4.20" height="75.43" fill="#83EABF" />
<rect x="613.56" y="277.37" width="4.20" height="75.43" fill="#83EABF" />
<rect x="641.19" y="277.37" width="4.20" height="75.43" fill="#83EABF" />
<rect x="668.82" y="277.37" width="4.20" height="75.43" fill="#83EABF" />
<rect x="425.65" y="345.62" width="4.20" height="7.18" fill="#D3F865" />
<rect x="453.28" y="345.62" width="4.20" height="7.18" fill="#D3F865" />
<rect x="480.91" y="334.84" width="4.20" height="17.96" fill="#D3F865" />
<rect x="508.54" y="334.84" width="4.20" height="17.96" fill="#D3F865" />
<rect x="536.17" y="334.84" width="4.20" height="17.96" fill="#D3F865" />
<rect x="563.80" y="334.84" width="4.20" height="17.96" fill="#D3F865" />
<rect x="591.43" y="334.84" width="4.20" height="17.96" fill="#D3F865" />
<rect x="619.06" y="334.84" width="4.20" height="17.96" fill="#D3F865" />
<rect x="646.69" y="298.92" width="4.20" height="53.88" fill="#D3F865" />
<rect x="674.32" y="334.84" width="4.20" height="17.96" fill="#D3F865" />
<line x1="419.50" y1="352.8" x2="419.50" y2="347.3" stroke="#333333" stroke-width="1"/>
<line x1="447.13" y1="352.8" x2="447.13" y2="347.3" stroke="#333333" stroke-width="1"/>
<line x1="474.76" y1="352.8" x2="474.76" y2="347.3" stroke="#333333" stroke-width="1"/>
<line x1="502.39" y1="352.8" x2="502.39" y2="347.3" stroke="#333333" stroke-width="1"/>
<line x1="530.02" y1="352.8" x2="530.02" y2="347.3" stroke="#333333" stroke-width="1"/>
<line x1="557.65" y1="352.8" x2="557.65" y2="347.3" stroke="#333333" stroke-width="1"/>
<line x1="585.28" y1="352.8" x2="585.28" y2="347.3" stroke="#333333" stroke-width="1"/>
<line x1="612.91" y1="352.8" x2="612.91" y2="347.3" stroke="#333333" stroke-width="1"/>
<line x1="640.54" y1="352.8" x2="640.54" y2="347.3" stroke="#333333" stroke-width="1"/>
<line x1="668.17" y1="352.8" x2="668.17" y2="347.3" stroke="#333333" stroke-width="1"/>
<line x1="405.3" y1="352.80" x2="410.8" y2="352.80" stroke="#333333" stroke-width="1"/>
<line x1="405.3" y1="334.84" x2="410.8" y2="334.84" stroke="#333333" stroke-width="1"/>
<line x1="405.3" y1="316.88" x2="410.8" y2="316.88" stroke="#333333" stroke-width="1"/>
<line x1="405.3" y1="298.92" x2="410.8" y2="298.92" stroke="#333333" stroke-width="1"/>
<line x1="405.3" y1="280.96" x2="410.8" y2="280.96" stroke="#333333" stroke-width="1"/>
<line x1="405.3" y1="263.00" x2="410.8" y2="263.00" stroke="#333333" stroke-width="1"/>
<rect x="405.3" y="263.0" width="276.99999999999994" height="89.80000000000001" fill="none" stroke="#404040" stroke-width="1.2"/>
<text x="2" y="391.7" font-size="13.33" text-anchor="start" font-weight="bold" font-style="normal" >f</text>
<text x="70.4" y="495.6" font-size="13.33" text-anchor="end" font-weight="normal" font-style="normal" >0</text>
<text x="70.4" y="477.66" font-size="13.33" text-anchor="end" font-weight="normal" font-style="normal" >1000</text>
<text x="70.4" y="459.72" font-size="13.33" text-anchor="end" font-weight="normal" font-style="normal" >2000</text>
<text x="70.4" y="441.78000000000003" font-size="13.33" text-anchor="end" font-weight="normal" font-style="normal" >3000</text>
<text x="70.4" y="423.84000000000003" font-size="13.33" text-anchor="end" font-weight="normal" font-style="normal" >4000</text>
<text x="70.4" y="405.90000000000003" font-size="13.33" text-anchor="end" font-weight="normal" font-style="normal" >5000</text>
<text x="89.3" y="506.3" font-size="13.33" text-anchor="middle" font-weight="normal" font-style="normal" >10</text>
<text x="115.35" y="506.3" font-size="13.33" text-anchor="middle" font-weight="normal" font-style="normal" >20</text>
<text x="141.4" y="506.3" font-size="13.33" text-anchor="middle" font-weight="normal" font-style="normal" >30</text>
<text x="167.45" y="506.3" font-size="13.33" text-anchor="middle" font-weight="normal" font-style="normal" >40</text>
<text x="193.5" y="506.3" font-size="13.33" text-anchor="middle" font-weight="normal" font-style="normal" >50</text>
<text x="219.55" y="506.3" font-size="13.33" text-anchor="middle" font-weight="normal" font-style="normal" >60</text>
<text x="245.60000000000002" y="506.3" font-size="13.33" text-anchor="middle" font-weight="normal" font-style="normal" >70</text>
<text x="271.65" y="506.3" font-size="13.33" text-anchor="middle" font-weight="normal" font-style="normal" >80</text>
<text x="297.7" y="506.3" font-size="13.33" text-anchor="middle" font-weight="normal" font-style="normal" >90</text>
<text x="323.75" y="506.3" font-size="13.33" text-anchor="middle" font-weight="normal" font-style="normal" >100</text>
<text x="206.5" y="520.8" font-size="13.33" text-anchor="middle"><tspan font-style="italic">R</tspan> (%)</text>
<text transform="translate(17.3,446.4) rotate(-90)" font-size="13.33" text-anchor="middle">Total scheduling</text>
<text transform="translate(31.2,446.4) rotate(-90)" font-size="13.33" text-anchor="middle">time (min)</text>
<rect x="79.70" y="453.70" width="3.90" height="37.30" fill="#72B1FA" />
<rect x="105.75" y="453.70" width="3.90" height="37.30" fill="#72B1FA" />
<rect x="131.80" y="490.00" width="3.90" height="1.00" fill="#72B1FA" />
<rect x="157.85" y="490.20" width="3.90" height="0.80" fill="#72B1FA" />
<rect x="183.90" y="490.20" width="3.90" height="0.80" fill="#72B1FA" />
<rect x="209.95" y="489.20" width="3.90" height="1.80" fill="#72B1FA" />
<rect x="236.00" y="488.40" width="3.90" height="2.60" fill="#72B1FA" />
<rect x="262.05" y="487.00" width="3.90" height="4.00" fill="#72B1FA" />
<rect x="288.10" y="433.20" width="3.90" height="57.80" fill="#72B1FA" />
<rect x="314.15" y="407.30" width="3.90" height="83.70" fill="#72B1FA" />
<rect x="84.80" y="488.40" width="3.90" height="2.60" fill="#66D7DF" />
<rect x="110.85" y="488.00" width="3.90" height="3.00" fill="#66D7DF" />
<rect x="136.90" y="488.00" width="3.90" height="3.00" fill="#66D7DF" />
<rect x="162.95" y="488.00" width="3.90" height="3.00" fill="#66D7DF" />
<rect x="189.00" y="488.00" width="3.90" height="3.00" fill="#66D7DF" />
<rect x="215.05" y="488.00" width="3.90" height="3.00" fill="#66D7DF" />
<rect x="241.10" y="488.00" width="3.90" height="3.00" fill="#66D7DF" />
<rect x="267.15" y="488.00" width="3.90" height="3.00" fill="#66D7DF" />
<rect x="293.20" y="488.00" width="3.90" height="3.00" fill="#66D7DF" />
<rect x="319.25" y="488.00" width="3.90" height="3.00" fill="#66D7DF" />
<rect x="89.90" y="450.20" width="3.90" height="40.80" fill="#83EABF" />
<rect x="115.95" y="451.60" width="3.90" height="39.40" fill="#83EABF" />
<rect x="142.00" y="454.30" width="3.90" height="36.70" fill="#83EABF" />
<rect x="168.05" y="438.30" width="3.90" height="52.70" fill="#83EABF" />
<rect x="194.10" y="438.30" width="3.90" height="52.70" fill="#83EABF" />
<rect x="220.15" y="438.30" width="3.90" height="52.70" fill="#83EABF" />
<rect x="246.20" y="438.30" width="3.90" height="52.70" fill="#83EABF" />
<rect x="272.25" y="438.30" width="3.90" height="52.70" fill="#83EABF" />
<rect x="298.30" y="438.30" width="3.90" height="52.70" fill="#83EABF" />
<rect x="324.35" y="438.30" width="3.90" height="52.70" fill="#83EABF" />
<rect x="95.00" y="475.70" width="3.90" height="15.30" fill="#D3F865" />
<rect x="121.05" y="475.70" width="3.90" height="15.30" fill="#D3F865" />
<rect x="147.10" y="474.10" width="3.90" height="16.90" fill="#D3F865" />
<rect x="173.15" y="476.10" width="3.90" height="14.90" fill="#D3F865" />
<rect x="199.20" y="477.20" width="3.90" height="13.80" fill="#D3F865" />
<rect x="225.25" y="477.20" width="3.90" height="13.80" fill="#D3F865" />
<rect x="251.30" y="477.20" width="3.90" height="13.80" fill="#D3F865" />
<rect x="277.35" y="477.20" width="3.90" height="13.80" fill="#D3F865" />
<rect x="303.40" y="425.20" width="3.90" height="65.80" fill="#D3F865" />
<rect x="329.45" y="428.70" width="3.90" height="62.30" fill="#D3F865" />
<line x1="89.30" y1="491.0" x2="89.30" y2="485.5" stroke="#333333" stroke-width="1"/>
<line x1="115.35" y1="491.0" x2="115.35" y2="485.5" stroke="#333333" stroke-width="1"/>
<line x1="141.40" y1="491.0" x2="141.40" y2="485.5" stroke="#333333" stroke-width="1"/>
<line x1="167.45" y1="491.0" x2="167.45" y2="485.5" stroke="#333333" stroke-width="1"/>
<line x1="193.50" y1="491.0" x2="193.50" y2="485.5" stroke="#333333" stroke-width="1"/>
<line x1="219.55" y1="491.0" x2="219.55" y2="485.5" stroke="#333333" stroke-width="1"/>
<line x1="245.60" y1="491.0" x2="245.60" y2="485.5" stroke="#333333" stroke-width="1"/>
<line x1="271.65" y1="491.0" x2="271.65" y2="485.5" stroke="#333333" stroke-width="1"/>
<line x1="297.70" y1="491.0" x2="297.70" y2="485.5" stroke="#333333" stroke-width="1"/>
<line x1="323.75" y1="491.0" x2="323.75" y2="485.5" stroke="#333333" stroke-width="1"/>
<line x1="76.6" y1="491.00" x2="82.1" y2="491.00" stroke="#333333" stroke-width="1"/>
<line x1="76.6" y1="473.06" x2="82.1" y2="473.06" stroke="#333333" stroke-width="1"/>
<line x1="76.6" y1="455.12" x2="82.1" y2="455.12" stroke="#333333" stroke-width="1"/>
<line x1="76.6" y1="437.18" x2="82.1" y2="437.18" stroke="#333333" stroke-width="1"/>
<line x1="76.6" y1="419.24" x2="82.1" y2="419.24" stroke="#333333" stroke-width="1"/>
<line x1="76.6" y1="401.30" x2="82.1" y2="401.30" stroke="#333333" stroke-width="1"/>
<rect x="76.6" y="401.3" width="259.79999999999995" height="89.69999999999999" fill="none" stroke="#404040" stroke-width="1.2"/>
<text x="347.6" y="391.7" font-size="13.33" text-anchor="start" font-weight="bold" font-style="normal" >g</text>
<text x="399.4" y="495.90000000000003" font-size="13.33" text-anchor="end" font-weight="normal" font-style="normal" >0</text>
<text x="399.4" y="477.92" font-size="13.33" text-anchor="end" font-weight="normal" font-style="normal" >2</text>
<text x="399.4" y="459.94" font-size="13.33" text-anchor="end" font-weight="normal" font-style="normal" >4</text>
<text x="399.4" y="441.96000000000004" font-size="13.33" text-anchor="end" font-weight="normal" font-style="normal" >6</text>
<text x="399.4" y="423.98" font-size="13.33" text-anchor="end" font-weight="normal" font-style="normal" >8</text>
<text x="399.4" y="406.0" font-size="13.33" text-anchor="end" font-weight="normal" font-style="normal" >10</text>
<text x="419.5" y="506.3" font-size="13.33" text-anchor="middle" font-weight="normal" font-style="normal" >10</text>
<text x="447.13" y="506.3" font-size="13.33" text-anchor="middle" font-weight="normal" font-style="normal" >20</text>
<text x="474.76" y="506.3" font-size="13.33" text-anchor="middle" font-weight="normal" font-style="normal" >30</text>
<text x="502.39" y="506.3" font-size="13.33" text-anchor="middle" font-weight="normal" font-style="normal" >40</text>
<text x="530.02" y="506.3" font-size="13.33" text-anchor="middle" font-weight="normal" font-style="normal" >50</text>
<text x="557.65" y="506.3" font-size="13.33" text-anchor="middle" font-weight="normal" font-style="normal" >60</text>
<text x="585.28" y="506.3" font-size="13.33" text-anchor="middle" font-weight="normal" font-style="normal" >70</text>
<text x="612.91" y="506.3" font-size="13.33" text-anchor="middle" font-weight="normal" font-style="normal" >80</text>
<text x="640.54" y="506.3" font-size="13.33" text-anchor="middle" font-weight="normal" font-style="normal" >90</text>
<text x="668.17" y="506.3" font-size="13.33" text-anchor="middle" font-weight="normal" font-style="normal" >100</text>
<text x="544" y="520.8" font-size="13.33" text-anchor="middle"><tspan font-style="italic">R</tspan> (%)</text>
<text transform="translate(361.2,446.4) rotate(-90)" font-size="13.33" text-anchor="middle">Patching power</text>
<text transform="translate(375.8,446.4) rotate(-90)" font-size="13.33" text-anchor="middle">reduction (KWh)</text>
<rect x="409.15" y="486.40" width="4.20" height="4.90" fill="#72B1FA" />
<rect x="436.78" y="486.40" width="4.20" height="4.90" fill="#72B1FA" />
<rect x="464.41" y="486.00" width="4.20" height="5.30" fill="#72B1FA" />
<rect x="492.04" y="483.90" width="4.20" height="7.40" fill="#72B1FA" />
<rect x="519.67" y="481.20" width="4.20" height="10.10" fill="#72B1FA" />
<rect x="547.30" y="476.90" width="4.20" height="14.40" fill="#72B1FA" />
<rect x="574.93" y="470.10" width="4.20" height="21.20" fill="#72B1FA" />
<rect x="602.56" y="460.00" width="4.20" height="31.30" fill="#72B1FA" />
<rect x="630.19" y="451.10" width="4.20" height="40.20" fill="#72B1FA" />
<rect x="657.82" y="447.30" width="4.20" height="44.00" fill="#72B1FA" />
<rect x="414.65" y="480.70" width="4.20" height="10.60" fill="#66D7DF" />
<rect x="442.28" y="474.00" width="4.20" height="17.30" fill="#66D7DF" />
<rect x="469.91" y="474.00" width="4.20" height="17.30" fill="#66D7DF" />
<rect x="497.54" y="474.00" width="4.20" height="17.30" fill="#66D7DF" />
<rect x="525.17" y="474.00" width="4.20" height="17.30" fill="#66D7DF" />
<rect x="552.80" y="474.00" width="4.20" height="17.30" fill="#66D7DF" />
<rect x="580.43" y="474.00" width="4.20" height="17.30" fill="#66D7DF" />
<rect x="608.06" y="474.00" width="4.20" height="17.30" fill="#66D7DF" />
<rect x="635.69" y="474.00" width="4.20" height="17.30" fill="#66D7DF" />
<rect x="663.32" y="474.00" width="4.20" height="17.30" fill="#66D7DF" />
<rect x="420.15" y="433.10" width="4.20" height="58.20" fill="#83EABF" />
<rect x="447.78" y="422.90" width="4.20" height="68.40" fill="#83EABF" />
<rect x="475.41" y="420.40" width="4.20" height="70.90" fill="#83EABF" />
<rect x="503.04" y="417.90" width="4.20" height="73.40" fill="#83EABF" />
<rect x="530.67" y="417.90" width="4.20" height="73.40" fill="#83EABF" />
<rect x="558.30" y="417.90" width="4.20" height="73.40" fill="#83EABF" />
<rect x="585.93" y="417.90" width="4.20" height="73.40" fill="#83EABF" />
<rect x="613.56" y="417.90" width="4.20" height="73.40" fill="#83EABF" />
<rect x="641.19" y="417.90" width="4.20" height="73.40" fill="#83EABF" />
<rect x="668.82" y="417.90" width="4.20" height="73.40" fill="#83EABF" />
<rect x="425.65" y="482.80" width="4.20" height="8.50" fill="#D3F865" />
<rect x="453.28" y="482.80" width="4.20" height="8.50" fill="#D3F865" />
<rect x="480.91" y="472.90" width="4.20" height="18.40" fill="#D3F865" />
<rect x="508.54" y="468.00" width="4.20" height="23.30" fill="#D3F865" />
<rect x="536.17" y="467.40" width="4.20" height="23.90" fill="#D3F865" />
<rect x="563.80" y="467.40" width="4.20" height="23.90" fill="#D3F865" />
<rect x="591.43" y="467.40" width="4.20" height="23.90" fill="#D3F865" />
<rect x="619.06" y="467.40" width="4.20" height="23.90" fill="#D3F865" />
<rect x="646.69" y="467.00" width="4.20" height="24.30" fill="#D3F865" />
<rect x="674.32" y="465.50" width="4.20" height="25.80" fill="#D3F865" />
<line x1="419.50" y1="491.3" x2="419.50" y2="485.8" stroke="#333333" stroke-width="1"/>
<line x1="447.13" y1="491.3" x2="447.13" y2="485.8" stroke="#333333" stroke-width="1"/>
<line x1="474.76" y1="491.3" x2="474.76" y2="485.8" stroke="#333333" stroke-width="1"/>
<line x1="502.39" y1="491.3" x2="502.39" y2="485.8" stroke="#333333" stroke-width="1"/>
<line x1="530.02" y1="491.3" x2="530.02" y2="485.8" stroke="#333333" stroke-width="1"/>
<line x1="557.65" y1="491.3" x2="557.65" y2="485.8" stroke="#333333" stroke-width="1"/>
<line x1="585.28" y1="491.3" x2="585.28" y2="485.8" stroke="#333333" stroke-width="1"/>
<line x1="612.91" y1="491.3" x2="612.91" y2="485.8" stroke="#333333" stroke-width="1"/>
<line x1="640.54" y1="491.3" x2="640.54" y2="485.8" stroke="#333333" stroke-width="1"/>
<line x1="668.17" y1="491.3" x2="668.17" y2="485.8" stroke="#333333" stroke-width="1"/>
<line x1="405.3" y1="491.30" x2="410.8" y2="491.30" stroke="#333333" stroke-width="1"/>
<line x1="405.3" y1="473.32" x2="410.8" y2="473.32" stroke="#333333" stroke-width="1"/>
<line x1="405.3" y1="455.34" x2="410.8" y2="455.34" stroke="#333333" stroke-width="1"/>
<line x1="405.3" y1="437.36" x2="410.8" y2="437.36" stroke="#333333" stroke-width="1"/>
<line x1="405.3" y1="419.38" x2="410.8" y2="419.38" stroke="#333333" stroke-width="1"/>
<line x1="405.3" y1="401.40" x2="410.8" y2="401.40" stroke="#333333" stroke-width="1"/>
<rect x="405.3" y="401.4" width="276.99999999999994" height="89.90000000000003" fill="none" stroke="#404040" stroke-width="1.2"/>
<rect x="138.10" y="534.30" width="19.60" height="10.50" fill="#72B1FA" />
<text x="170.1" y="544.4" font-size="13.33" text-anchor="start" font-weight="normal" font-style="normal" >CMT</text>
<rect x="237.00" y="534.30" width="19.60" height="10.50" fill="#66D7DF" />
<text x="268.7" y="544.4" font-size="13.33" text-anchor="start" font-weight="normal" font-style="normal" >CMR</text>
<rect x="331.20" y="534.30" width="19.60" height="10.50" fill="#83EABF" />
<text x="362.7" y="544.4" font-size="13.33" text-anchor="start" font-weight="normal" font-style="normal" >Non-CMT</text>
<rect x="449.10" y="534.30" width="19.60" height="10.50" fill="#D3F865" />
<text x="481.1" y="544.4" font-size="13.33" text-anchor="start" font-weight="normal" font-style="normal" >Semi-CMR</text>
</g></svg>
</body></html>
